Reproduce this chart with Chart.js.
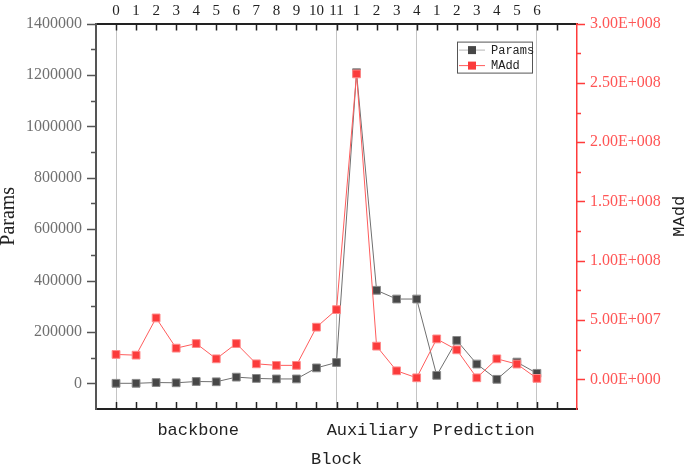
<!DOCTYPE html>
<html>
<head>
<meta charset="utf-8">
<script src="https://cdn.jsdelivr.net/npm/chart.js@4/dist/chart.umd.min.js"></script>
<style>
  html, body { margin: 0; padding: 0; background: #fff; }
  canvas { display: block; }
</style>
</head>
<body>
<canvas id="chart" width="685" height="468"></canvas>
<script>
// block index labels along the top axis
const topLabels = ['0', '1', '2', '3', '4', '5', '6', '7', '8', '9', '10', '11',
  '1', '2', '3', '4', '1', '2', '3', '4', '5', '6'];

const params = [0, 0, 3000, 2000, 7000, 6000, 24000, 19000, 17000, 17000, 60000, 81000,
  1209000, 362000, 328000, 328000, 31000, 167000, 75000, 15500, 82600, 38800];

const madd = [21.0e6, 20.4e6, 51.8e6, 26.3e6, 30.2e6, 17.3e6, 30.2e6, 13.1e6, 11.8e6, 11.8e6, 44.0e6, 58.8e6,
  257.6e6, 28.0e6, 7.2e6, 1.3e6, 34.1e6, 24.9e6, 1.3e6, 17.3e6, 12.9e6, 0.8e6];

const groupNames = ['backbone', 'Auxiliary', 'Prediction'];
const groupCenters = [4.1, 12.8, 18.35];
const dividers = [0, 11, 15, 21];

const leftTicks = [0, 200000, 400000, 600000, 800000, 1000000, 1200000, 1400000];
const rightTicks = [0, 5e7, 1e8, 1.5e8, 2e8, 2.5e8, 3e8];
const rightTickLabels = ['0.00E+000', '5.00E+007', '1.00E+008', '1.50E+008', '2.00E+008', '2.50E+008', '3.00E+008'];

const SERIF = '"Liberation Serif", "DejaVu Serif", serif';
const MONO = '"Liberation Mono", "DejaVu Sans Mono", monospace';

// short inward/outward tick marks like the original plot
const tickMarks = {
  id: 'tickMarks',
  afterDraw(chart) {
    const { ctx, chartArea: a, scales } = chart;
    ctx.save();
    ctx.lineWidth = 1.5;
    ctx.strokeStyle = '#222';
    ctx.beginPath();
    for (let i = 0; i <= 22; i++) {
      const px = Math.round(scales.x.getPixelForValue(i)) + 0.5;
      ctx.moveTo(px, a.top); ctx.lineTo(px, a.top + 7);
      ctx.moveTo(px, a.bottom); ctx.lineTo(px, a.bottom - 7);
    }
    ctx.stroke();

    ctx.strokeStyle = '#555';
    ctx.beginPath();
    for (let v = 0; v <= 1400000; v += 100000) {
      const py = Math.round(scales.y.getPixelForValue(v)) + 0.5;
      const len = v % 200000 === 0 ? 9 : 5;
      ctx.moveTo(a.left, py); ctx.lineTo(a.left - len, py);
    }
    ctx.stroke();

    ctx.strokeStyle = '#ff3b3b';
    ctx.beginPath();
    for (let v = 0; v <= 3e8; v += 2.5e7) {
      const py = Math.round(scales.y1.getPixelForValue(v)) + 0.5;
      const len = v % 5e7 === 0 ? 8 : 4;
      ctx.moveTo(a.right, py); ctx.lineTo(a.right + len, py);
    }
    ctx.stroke();

    // right axis title, reading bottom to top
    ctx.fillStyle = '#222';
    ctx.font = '17px ' + MONO;
    ctx.textAlign = 'center';
    ctx.textBaseline = 'middle';
    ctx.translate(679, (a.top + a.bottom) / 2);
    ctx.rotate(-Math.PI / 2);
    ctx.fillText('MAdd', 0, 0);
    ctx.restore();
  }
};

// legend box inside the plot
const boxLegend = {
  id: 'boxLegend',
  afterDraw(chart) {
    const { ctx, chartArea: a } = chart;
    const x0 = a.left + 361, y0 = a.top + 18;
    ctx.save();
    ctx.fillStyle = '#fff';
    ctx.fillRect(x0, y0, 75, 31);
    ctx.strokeStyle = '#555';
    ctx.lineWidth = 1;
    ctx.strokeRect(x0 + 0.5, y0 + 0.5, 75, 31);
    const rows = [chart.data.datasets[0], chart.data.datasets[1]];
    rows.forEach((ds, i) => {
      const cy = y0 + 8 + i * 15.5;
      ctx.strokeStyle = ds.legendLine;
      ctx.beginPath();
      ctx.moveTo(x0 + 2, cy + 0.5); ctx.lineTo(x0 + 28, cy + 0.5);
      ctx.stroke();
      ctx.fillStyle = ds.pointBackgroundColor;
      ctx.fillRect(x0 + 11, cy - 3.5, 8, 8);
      ctx.fillStyle = '#222';
      ctx.font = '12px ' + MONO;
      ctx.textAlign = 'left';
      ctx.textBaseline = 'middle';
      ctx.fillText(ds.label, x0 + 34, cy + 1);
    });
    ctx.restore();
  }
};

const toPoints = arr => arr.map((v, i) => ({ x: i, y: v }));

new Chart(document.getElementById('chart'), {
  type: 'line',
  data: {
    datasets: [
      {
        label: 'Params',
        data: toPoints(params),
        yAxisID: 'y',
        xAxisID: 'x',
        order: 2,
        borderColor: '#707070',
        legendLine: '#b5b5b5',
        borderWidth: 1,
        pointStyle: 'rect',
        pointRadius: 5.5,
        pointBackgroundColor: '#474747',
        pointBorderColor: '#8a8a8a',
        pointBorderWidth: 1,
        tension: 0
      },
      {
        label: 'MAdd',
        data: toPoints(madd),
        yAxisID: 'y1',
        xAxisID: 'x',
        order: 1,
        borderColor: '#ff5c5c',
        legendLine: '#ff5c5c',
        borderWidth: 1,
        pointStyle: 'rect',
        pointRadius: 5.5,
        pointBackgroundColor: '#fb3b3b',
        pointBorderColor: '#ff8a8a',
        pointBorderWidth: 1,
        tension: 0
      }
    ]
  },
  options: {
    responsive: false,
    animation: false,
    devicePixelRatio: 1,
    layout: { padding: 0 },
    plugins: {
      legend: { display: false },
      tooltip: { enabled: false }
    },
    scales: {
      x: {
        type: 'linear',
        position: 'bottom',
        min: -1,
        max: 23,
        afterFit: s => { s.height = 59; },
        afterBuildTicks: s => { s.ticks = groupCenters.map(v => ({ value: v })); },
        ticks: {
          padding: 11,
          autoSkip: false,
          maxRotation: 0,
          color: '#222',
          font: { family: MONO, size: 17 },
          callback: (v) => groupNames[groupCenters.indexOf(v)] || ''
        },
        grid: { display: false, drawTicks: false },
        border: { display: true, color: '#222', width: 2 },
        title: {
          display: true,
          text: 'Block',
          color: '#222',
          padding: 0,
          font: { family: MONO, size: 17, lineHeight: 1 }
        }
      },
      xt: {
        type: 'linear',
        position: 'top',
        min: -1,
        max: 23,
        afterFit: s => { s.height = 21; },
        afterBuildTicks: s => {
          s.ticks = [];
          for (let i = 0; i <= 22; i++) s.ticks.push({ value: i });
        },
        ticks: {
          padding: 4,
          autoSkip: false,
          maxRotation: 0,
          color: '#222',
          font: { family: SERIF, size: 15 },
          callback: (v) => topLabels[v] !== undefined ? topLabels[v] : ''
        },
        grid: {
          drawTicks: false,
          drawOnChartArea: true,
          lineWidth: 1,
          color: c => (c.tick && dividers.includes(c.tick.value)) ? '#c4c4c4' : 'rgba(0,0,0,0)'
        },
        border: { display: true, color: '#222', width: 2 }
      },
      y: {
        type: 'linear',
        position: 'left',
        min: -100000,
        max: 1400000,
        afterFit: s => { s.width = 96; },
        afterBuildTicks: s => { s.ticks = leftTicks.map(v => ({ value: v })); },
        ticks: {
          padding: 14,
          color: '#707070',
          font: { family: SERIF, size: 16 },
          callback: v => String(v)
        },
        grid: { display: false, drawTicks: false },
        border: { display: true, color: '#555', width: 2 },
        title: {
          display: true,
          text: 'Params',
          color: '#222',
          padding: { top: -1 },
          font: { family: SERIF, size: 20, lineHeight: 1 }
        }
      },
      y1: {
        type: 'linear',
        position: 'right',
        min: -2.5e7,
        max: 3e8,
        afterFit: s => { s.width = 108; },
        afterBuildTicks: s => { s.ticks = rightTicks.map(v => ({ value: v })); },
        ticks: {
          padding: 13,
          color: '#ff5555',
          font: { family: SERIF, size: 16 },
          callback: v => rightTickLabels[rightTicks.indexOf(v)] || ''
        },
        grid: { display: false, drawTicks: false },
        border: { display: true, color: '#ff3b3b', width: 1.5 }
      }
    }
  },
  plugins: [tickMarks, boxLegend]
});
</script>
</body>
</html>
